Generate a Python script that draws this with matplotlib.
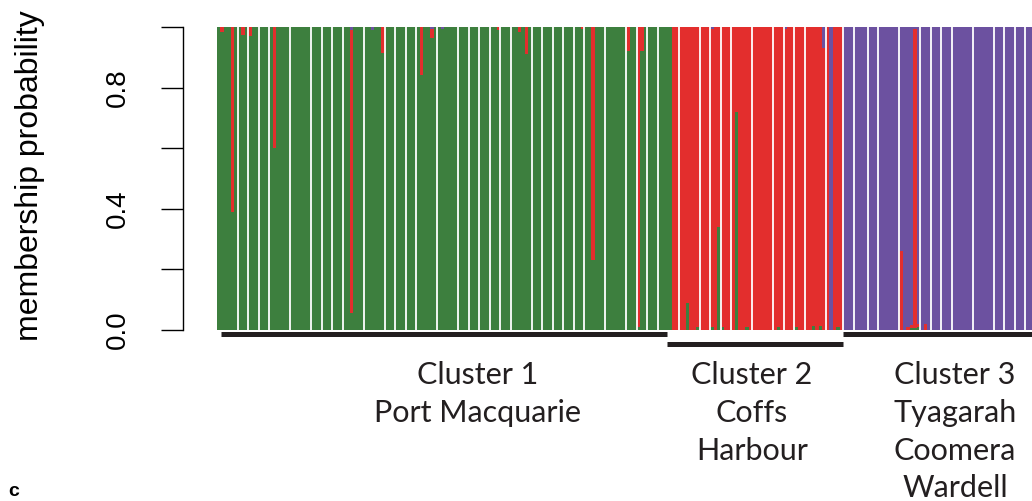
import numpy as np
import matplotlib
matplotlib.use("Agg")
import matplotlib.pyplot as plt

# individuals per cluster (green, red, purple)
cluster_sizes = [130, 49, 54]
cluster_lines = [["Cluster 1", "Port Macquarie"],
                 ["Cluster 2", "Coffs", "Harbour"],
                 ["Cluster 3", "Tyagarah", "Coomera", "Wardell"]]
colors = ["#3d7f3e", "#e32e2d", "#6c51a0"]

# individuals with mixed membership (index, green, red, purple)
mix_idx    = [1, 4, 7, 9, 16, 38, 44, 47, 58, 61, 64, 80, 86, 88, 104, 107, 117, 120, 121,
              134, 137, 141, 143, 144, 148, 151, 160, 162, 165, 170, 172, 173, 175, 177,
              195, 197, 198, 199, 200, 202]
mix_green  = [.985, .39, .975, .97, .60, .055, .99, .915, .84, .965, .992, .99, .985, .91, .992, .23, .92, .01, .92,
              .09, .01, .01, .34, .01, .72, .01, .01, 0, .01, .012, .012, 0, 0, .01,
              0, 0, .005, .005, .01, 0]
mix_red    = [.015, .61, .025, .03, .40, .935, 0, .085, .16, .03, 0, .01, .015, .09, .008, .77, .08, .99, .08,
              .91, .99, .985, .66, .99, .28, .99, .99, .992, .99, .988, .988, .93, 0, .99,
              .26, .01, .012, .99, .01, .02]
mix_purple = [0, 0, 0, 0, 0, .01, .01, 0, 0, .005, .008, 0, 0, 0, 0, 0, 0, 0, 0,
              0, 0, .005, 0, 0, 0, 0, 0, .008, 0, 0, 0, .07, 1.0, 0,
              .74, .99, .983, .005, .98, .98]

# boundaries where a white gap shows between individuals
sep_after = [6, 9, 12, 15, 21, 27, 30, 33, 36, 42, 48, 51, 54, 57, 63, 69, 72, 75, 78, 81,
             84, 90, 93, 96, 99, 102, 105, 111, 117, 120, 123, 126,
             132, 138, 141, 144, 147, 153, 159, 162, 165, 168, 174, 179,
             182, 186, 189, 195, 201, 204, 207, 210, 216, 222, 225, 228, 231]

yticks = [0.0, 0.2, 0.4, 0.6, 0.8, 1.0]
ytick_labels = ["0.0", "", "0.4", "", "0.8", ""]

# membership matrix
n = sum(cluster_sizes)
q = np.zeros((n, 3))
start = 0
for k, size in enumerate(cluster_sizes):
    q[start:start + size, k] = 1.0
    start += size
for i, g, r, p in zip(mix_idx, mix_green, mix_red, mix_purple):
    q[i] = [g, r, p]

W, H = 1032, 501
fig = plt.figure(figsize=(W / 100, H / 100), dpi=100)
ax = fig.add_axes([216.5 / W, (H - 330) / H, (1032 - 216.5) / W, 303 / H])

x = np.arange(n)
bottom = np.zeros(n)
for k in range(3):
    ax.bar(x, q[:, k], bottom=bottom, width=1.0, align="edge", color=colors[k],
           linewidth=0, antialiased=False)
    bottom += q[:, k]

ax.vlines(sep_after, 0, 1, color="white", lw=1.3)

ax.set_xlim(0, n)
ax.set_ylim(0, 1)
for s in ["top", "right", "bottom"]:
    ax.spines[s].set_visible(False)
ax.spines["left"].set_position(("outward", 24))
ax.spines["left"].set_linewidth(1.0)
ax.set_xticks([])
ax.set_yticks(yticks)
ax.set_yticklabels(ytick_labels, fontsize=20, family="Liberation Sans")
ax.tick_params(axis="y", length=16, width=1.0, pad=22, labelrotation=90)
for lab in ax.get_yticklabels():
    lab.set_va("center")

fig.text(30 / W, (H - 176) / H, "membership probability", rotation=90, ha="center", va="center",
         fontsize=23, family="Liberation Sans")

# cluster underlines
bounds = np.concatenate([[0], np.cumsum(cluster_sizes)])
trans = ax.get_xaxis_transform()
spans = [(bounds[0] + 1.3, bounds[1] - 1.3, -0.013),
         (bounds[1] - 1.3, bounds[2], -0.046),
         (bounds[2], bounds[3], -0.013)]
for x0, x1, yy in spans:
    ax.plot([x0, x1], [yy, yy], color="#231f20", lw=3.6, solid_capstyle="butt",
            transform=trans, clip_on=False)

label_x = [478, 752, 955]
baselines = [384, 422, 460, 497]
for cx, lines in zip(label_x, cluster_lines):
    for j, txt in enumerate(lines):
        fig.text(cx / W, (H - baselines[j]) / H, txt, ha="center", va="baseline",
                 fontsize=22, family="Lato", color="#231f20")

fig.text(14 / W, 1 / H, "c", ha="center", va="bottom", fontsize=14, fontweight="bold",
         family="Liberation Sans")

fig.savefig("out.png", dpi=100)
